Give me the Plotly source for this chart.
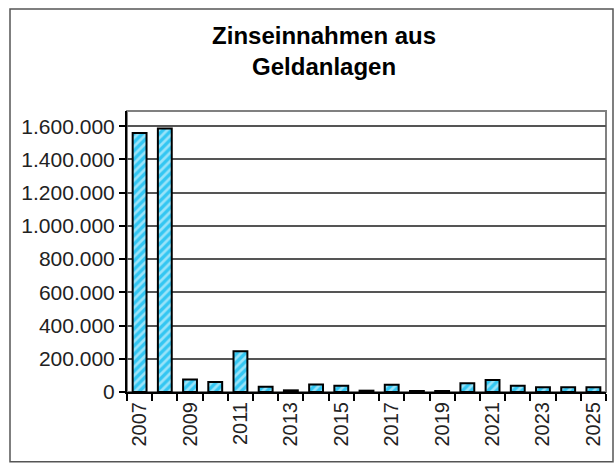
import plotly.graph_objects as go

years = list(range(2007, 2026))
values = [1560000, 1586000, 76000, 60000, 245000, 32000, 10000, 45000, 37000,
          8000, 43000, 6000, 6000, 52000, 72000, 37000, 28000, 28000, 28000]
tick_years = list(range(2007, 2026, 2))
title_text = "Zinseinnahmen aus<br>Geldanlagen"
ytick_vals = [0, 200000, 400000, 600000, 800000, 1000000, 1200000, 1400000, 1600000]

fig = go.Figure()
fig.add_trace(go.Bar(
    x=years, y=values, width=0.55,
    marker=dict(color="#33C6F2",
                line=dict(color="black", width=2),
                pattern=dict(shape="/", fgcolor="white", bgcolor="#33C6F2",
                             size=6, solidity=0.45, fillmode="overlay")),
))

fig.update_layout(
    width=615, height=464,
    margin=dict(l=127, r=9, t=111, b=72),
    paper_bgcolor="white", plot_bgcolor="white",
    separators=",.",
    showlegend=False,
    font=dict(family="Liberation Sans, Arial", size=20, color="#222"),
    title=dict(text=title_text, x=0.527, xanchor="center", xref="container",
               y=1 - 44/464, yanchor="middle",
               font=dict(family="Liberation Sans, Arial", size=24, color="black", weight="bold")),
)
fig.update_xaxes(
    range=[2006.5, 2025.5], tickmode="array", tickvals=tick_years,
    ticktext=[str(y) for y in tick_years], tickangle=-90, ticks="",
    showgrid=False, zeroline=False, showline=True, linecolor="black", linewidth=2,
    minor=dict(tickmode="linear", tick0=2006.5, dtick=1, ticks="outside",
               ticklen=7, tickwidth=2, tickcolor="black", showgrid=False),
    tickfont=dict(size=20, color="#222"),
)
fig.update_yaxes(
    range=[0, 1692000], tickmode="array", tickvals=ytick_vals, tickformat=",d",
    ticks="outside", ticklen=6, tickwidth=2, tickcolor="black",
    showgrid=True, gridcolor="#555555", gridwidth=1.5,
    zeroline=False, showline=True, linecolor="black", linewidth=2,
    tickfont=dict(size=21, color="#222"),
)
fig.add_shape(type="rect", xref="paper", yref="paper", x0=0, x1=1, y0=0, y1=1,
              line=dict(color="#808080", width=2), layer="below")
fig.add_shape(type="rect", xref="paper", yref="paper",
              x0=-117/479, x1=486/479, y0=-69.7/281, y1=383/281,
              line=dict(color="#555555", width=1.5))
fig.write_html("out.html", config={"displayModeBar": False},
               post_script="document.body.style.margin='0';")
